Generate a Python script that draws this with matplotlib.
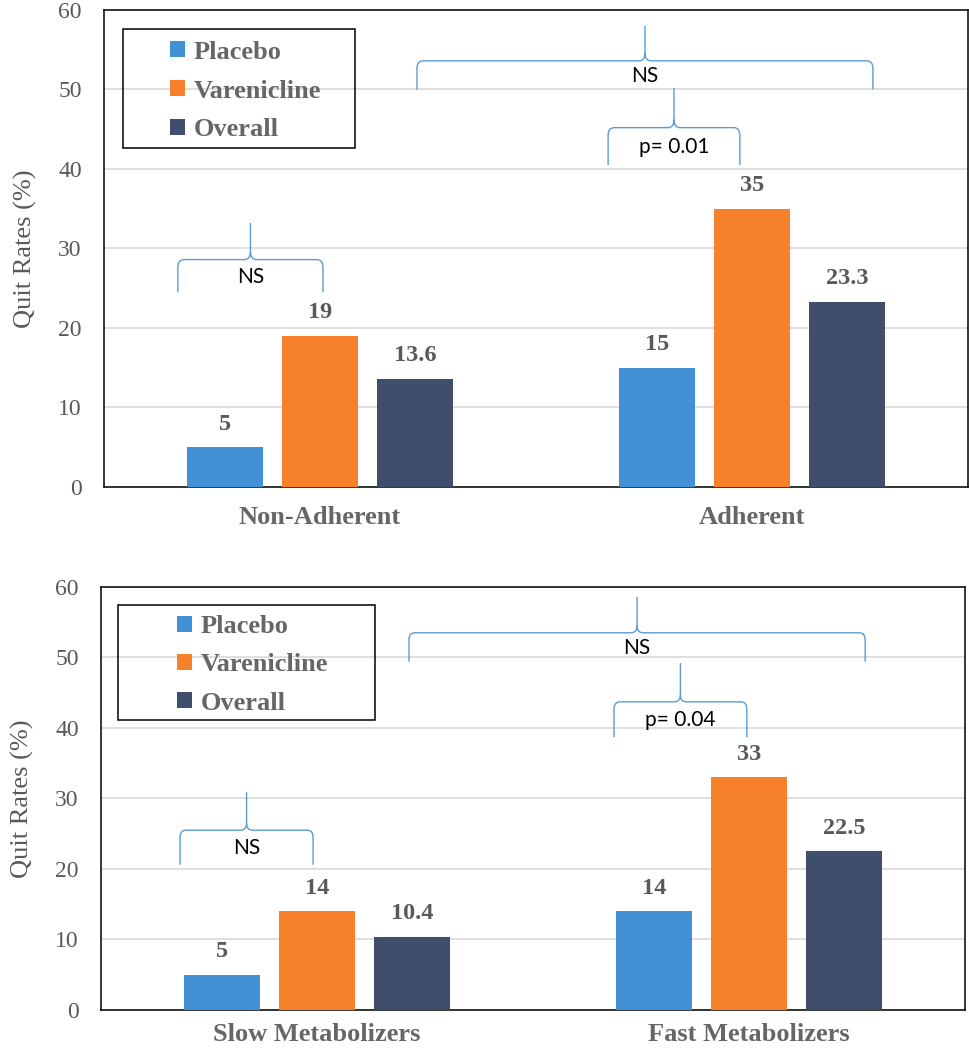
import matplotlib
matplotlib.use('Agg')
import matplotlib.pyplot as plt
import numpy as np
from matplotlib.path import Path
from matplotlib.patches import PathPatch, Rectangle

# data
series = ['Placebo', 'Varenicline', 'Overall']
colors = ['#4391d5', '#f7812a', '#3f4e6a']

top_groups = ['Non-Adherent', 'Adherent']
top_placebo = [5, 15]
top_varen = [19, 35]
top_overall = [13.6, 23.3]

bot_groups = ['Slow Metabolizers', 'Fast Metabolizers']
bot_placebo = [5, 14]
bot_varen = [14, 33]
bot_overall = [10.4, 22.5]

# brace annotations: (x0, x1, y_end, y_h, y_tip, label)
top_braces = [(-0.329, 0.007, 24.5, 28.6, 33.2, 'NS'),
              (0.2245, 1.28, 50.0, 53.6, 58.0, 'NS'),
              (0.667, 0.972, 40.5, 45.2, 50.2, 'p= 0.01')]
bot_braces = [(-0.317, -0.009, 20.6, 25.5, 30.9, 'NS'),
              (0.213, 1.269, 49.4, 53.5, 58.6, 'NS'),
              (0.6875, 0.995, 38.7, 43.7, 49.2, 'p= 0.04')]

serif = 'Liberation Serif'
gray = '#595959'
brace_col = '#5b9bd5'


def brace(ax, x0, x1, y_end, y_h, y_tip, label, rx=0.014, ry=1.0):
    xm = (x0 + x1) / 2
    verts = [(x0, y_end), (x0, y_h - ry), (x0, y_h), (x0 + rx, y_h),
             (xm - rx, y_h), (xm, y_h), (xm, y_h + ry), (xm, y_tip),
             (xm, y_h + ry), (xm, y_h), (xm + rx, y_h),
             (x1 - rx, y_h), (x1, y_h), (x1, y_h - ry), (x1, y_end)]
    codes = [Path.MOVETO, Path.LINETO, Path.CURVE3, Path.CURVE3,
             Path.LINETO, Path.CURVE3, Path.CURVE3, Path.LINETO,
             Path.MOVETO, Path.CURVE3, Path.CURVE3,
             Path.LINETO, Path.CURVE3, Path.CURVE3, Path.LINETO]
    ax.add_patch(PathPatch(Path(verts, codes), fill=False, edgecolor=brace_col,
                           lw=1.0, zorder=4))
    ax.text(xm, y_h - 0.45 * (y_h - y_end) - 0.3, label, ha='center', va='center',
            fontsize=15, family='Lato', color='black', zorder=5)


def panel(ax, groups, vals, braces, frame, leg_anchor, spacing, xpad):
    x = np.arange(len(groups))
    width = 0.174
    offsets = [-0.22, 0, 0.22]
    handles = []
    for i in range(3):
        b = ax.bar(x + offsets[i], vals[i], width, color=colors[i], label=series[i],
                   zorder=3)
        handles.append(b)
        for xi, v in zip(x + offsets[i], vals[i]):
            ax.annotate(f'{v:g}', (xi, v), xytext=(0, 9), textcoords='offset points',
                        ha='center', va='bottom', fontsize=17.5, fontweight='bold',
                        family=serif, color=gray)
    ax.set_xlim(-0.5, 1.5)
    ax.set_ylim(0, 60)
    ax.set_yticks(range(0, 61, 10))
    ax.yaxis.grid(True, color='#d9d9d9', lw=1.2, zorder=0)
    ax.set_axisbelow(True)
    ax.set_xticks(x)
    ax.set_xticklabels(groups, fontsize=19, fontweight='bold', family=serif,
                       color='#666666')
    ax.tick_params(axis='x', length=0, pad=xpad)
    ax.tick_params(axis='y', length=0, pad=16, labelsize=17, labelcolor=gray)
    for t in ax.get_yticklabels():
        t.set_family(serif)
    for s in ax.spines.values():
        s.set_color('black')
        s.set_linewidth(1.1)
    ax.set_ylabel('Quit Rates (%)', fontsize=19, family=serif, color=gray)
    ax.yaxis.set_label_coords(-0.077, 0.5)
    for br in braces:
        brace(ax, *br)
    leg = ax.legend(handles=handles, loc='center left', bbox_to_anchor=leg_anchor,
                    frameon=False, borderpad=0, borderaxespad=0,
                    handlelength=0.55, handleheight=0.55, handletextpad=0.35,
                    labelspacing=spacing,
                    prop={'family': serif, 'weight': 'bold', 'size': 19})
    for t in leg.get_texts():
        t.set_color('#666666')
    fx0, fy0, fx1, fy1 = frame
    ax.add_patch(Rectangle((fx0, fy0), fx1 - fx0, fy1 - fy0, transform=ax.transAxes,
                           fill=False, edgecolor='black', lw=1.1, zorder=6))


fig = plt.figure(figsize=(9.7, 10.5), dpi=100)
ax1 = fig.add_axes([0.1072, 0.5362, 0.8907, 0.4543])
ax2 = fig.add_axes([0.1041, 0.0381, 0.8907, 0.4029])

panel(ax1, top_groups, [top_placebo, top_varen, top_overall], top_braces,
      (0.022, 0.7107, 0.2905, 0.960), (0.0764, 0.830), 0.6, 14)
panel(ax2, bot_groups, [bot_placebo, bot_varen, bot_overall], bot_braces,
      (0.0197, 0.6856, 0.317, 0.957), (0.088, 0.8156), 0.58, 9.5)

fig.savefig('out.png', dpi=100)
